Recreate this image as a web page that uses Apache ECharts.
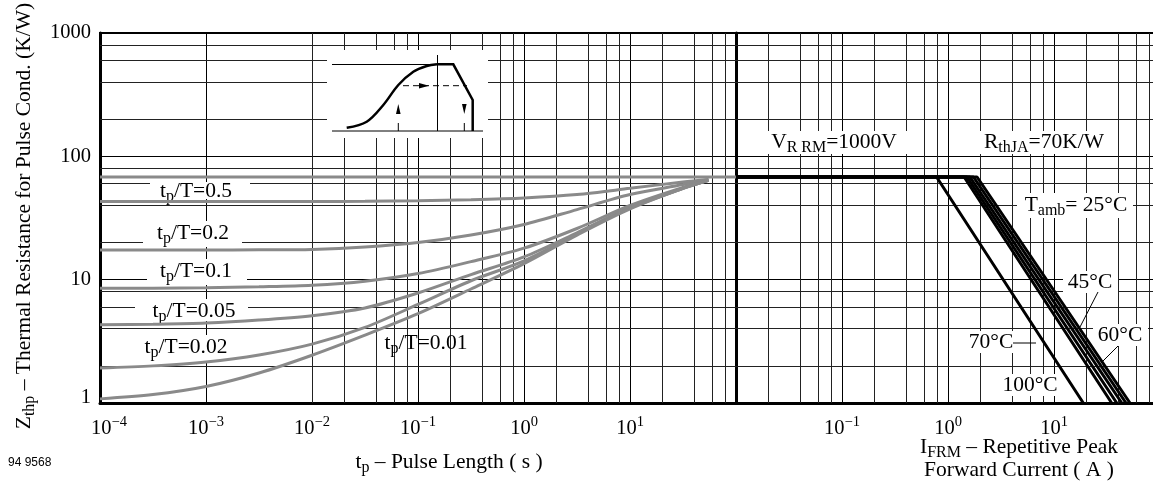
<!DOCTYPE html>
<html>
<head>
<meta charset="utf-8">
<script src="https://cdn.jsdelivr.net/npm/echarts/dist/echarts.min.js"></script>
<style>
  html, body { margin: 0; padding: 0; background: #fff; }
  #chart { width: 1153px; height: 481px; }
</style>
</head>
<body>
<div id="chart"></div>
<script>
// ---- left panel: Zthp vs pulse length, one curve per duty cycle tp/T ----
var pulseLength = [1e-4, 3.16e-4, 1e-3, 3.16e-3, 1e-2, 0.0316, 0.1, 0.316, 1, 3.16, 10, 31.6, 55];
var zth05  = [43, 43, 43, 43, 43, 43.2, 43.6, 44.5, 46, 49, 55, 62, 65];
var zth02  = [17.4, 17.4, 17.4, 17.45, 17.6, 18.4, 20, 23, 28, 37, 49, 59, 65];
var zth01  = [8.5, 8.52, 8.6, 8.75, 9.0, 9.7, 11.2, 14.0, 18, 26, 40, 56, 64];
var zth005 = [4.3, 4.35, 4.45, 4.7, 5.1, 5.9, 7.8, 11.0, 15.3, 24, 38.5, 55, 64];
var zth002 = [1.92, 2.0, 2.15, 2.45, 3.0, 4.1, 6.3, 9.8, 14.2, 23.5, 38, 55, 64];
var zth001 = [1.08, 1.17, 1.36, 1.75, 2.44, 3.55, 5.3, 8.4, 13.5, 23, 37.5, 55, 64];
var dcSpan = [1e-4, 100];
var rthLevel = 68;   // R_thJA plateau, K/W

// ---- right panel: I_FRM limit per ambient temperature ----
var ifrmStart = 0.01;
var ifrmKnee = [0.78, 1.42, 1.51, 1.61, 1.74, 1.88];
var ifrmEnd  = [18.9, 35.0, 39.1, 43.6, 47.8, 52.1];
var zBottom = 1;

// ---- axes / ticks ----
var yRange = [1, 1000];
var leftXRange = [1e-4, 100];
var rightXRange = [0.01, 100];
var leftTickExp = [-4, -3, -2, -1, 0, 1];
var rightTickExp = [-1, 0, 1];
var minorSteps = [2, 4, 6, 8];

var SERIF = 'Liberation Serif';
var GRAY = '#8a8a8a';

function decadeLines(lo, hi) {
  var out = [];
  for (var d = lo; d < hi; d *= 10) {
    minorSteps.forEach(function (m) { out.push(m * d); });
  }
  return out;
}

function expLabel(shown, padFirst) {
  return function (v) {
    var e = Math.round(Math.log10(v));
    if (shown.indexOf(e) < 0) return '';
    var s = e < 0 ? '\u2212' + (-e) : String(e);
    var pad = (padFirst && e === shown[0]) ? '{pad|\u00a0}' : '';
    return pad + '{b|10}{s|' + s + '}';
  };
}

var tickRich = {
  b: { fontFamily: SERIF, fontSize: 20.5, color: '#000' },
  s: { fontFamily: SERIF, fontSize: 14.5, color: '#000', padding: [0, 0, 13, 0] },
  pad: { width: 18, fontSize: 14 }
};

var textRich = {
  m: { fontFamily: SERIF, fontSize: 21.5, color: '#000' },
  sb: { fontFamily: SERIF, fontSize: 16, color: '#000', padding: [11, 0, 0, 0] }
};

function gridSeries(xi, xs, ys) {
  var d = [];
  xs.forEach(function (v) { d.push({ xAxis: v }); });
  ys.forEach(function (v) { d.push({ yAxis: v }); });
  return {
    type: 'line', xAxisIndex: xi, yAxisIndex: xi, data: [], z: 1, silent: true,
    markLine: {
      z: 1, silent: true, symbol: ['none', 'none'], label: { show: false },
      lineStyle: { color: '#222', width: 1, type: 'solid' },
      emphasis: { disabled: true },
      data: d
    }
  };
}

function curve(name, vals) {
  return {
    name: name, type: 'line', xAxisIndex: 0, yAxisIndex: 0, z: 10,
    smooth: 0.3, showSymbol: false, silent: true,
    lineStyle: { color: GRAY, width: 3 },
    data: pulseLength.map(function (t, i) { return [t, vals[i]]; })
  };
}

var series = [
  gridSeries(0, decadeLines(leftXRange[0], leftXRange[1]), decadeLines(yRange[0], yRange[1])),
  gridSeries(1, decadeLines(rightXRange[0], rightXRange[1]), decadeLines(yRange[0], yRange[1])),
  {
    name: 'DC', type: 'line', xAxisIndex: 0, yAxisIndex: 0, z: 10, showSymbol: false, silent: true,
    lineStyle: { color: GRAY, width: 3 },
    data: dcSpan.map(function (t) { return [t, rthLevel]; })
  },
  curve('0.5', zth05), curve('0.2', zth02), curve('0.1', zth01),
  curve('0.05', zth005), curve('0.02', zth002), curve('0.01', zth001)
];

ifrmKnee.forEach(function (k, i) {
  series.push({
    type: 'line', xAxisIndex: 1, yAxisIndex: 1, z: 10, showSymbol: false, silent: true,
    lineStyle: { color: '#000', width: 3 },
    data: [[ifrmStart, rthLevel], [k, rthLevel], [ifrmEnd[i], zBottom]]
  });
});

function label(x, y, text, extra) {
  return Object.assign({ type: 'text', x: x, y: y, z: 9, style: {
    text: text, rich: textRich, align: 'center', verticalAlign: 'middle',
    fontFamily: SERIF, fontSize: 21.5, fill: '#000'
  } }, extra || {});
}

// white patch that hides the grid behind a label
function patch(x0, y0, x1, y1) {
  return { type: 'rect', z: 8, shape: { x: x0, y: y0, width: x1 - x0, height: y1 - y0 },
    style: { fill: '#fff' } };
}

function seg(x1, y1, x2, y2, w, dash) {
  return { type: 'line', z: 9, shape: { x1: x1, y1: y1, x2: x2, y2: y2 },
    style: { stroke: '#000', lineWidth: w || 1, lineDash: dash || null } };
}

var graphics = [
  // duty-cycle labels
  patch(150, 182, 250, 199), label(196, 191, '{m|t}{sb|p}{m|/T=0.5}'),
  patch(143, 221, 242, 247), label(193, 233, '{m|t}{sb|p}{m|/T=0.2}'),
  patch(147, 259, 247, 285), label(196, 271, '{m|t}{sb|p}{m|/T=0.1}'),
  patch(135, 299, 248, 321), label(194, 311, '{m|t}{sb|p}{m|/T=0.05}'),
  patch(133, 335, 242, 362), label(186, 347, '{m|t}{sb|p}{m|/T=0.02}'),
  label(426, 343, '{m|t}{sb|p}{m|/T=0.01}'),
  // right panel labels
  patch(765, 131, 907, 154), label(834, 142, '{m|V}{sb|R RM}{m|=1000V}'),
  patch(980, 131, 1118, 154), label(1044, 142, '{m|R}{sb|thJA}{m|=70K/W}'),
  patch(1017, 193, 1133, 218), label(1076, 205, '{m|T}{sb|amb}{m|= 25\u00b0C}'),
  patch(1063, 271, 1118, 293), label(1090, 282, '{m|45\u00b0C}'),
  patch(1093, 324, 1148, 346), label(1120, 335, '{m|60\u00b0C}'),
  patch(968, 331, 1014, 353), label(991, 342, '{m|70\u00b0C}'),
  patch(1001, 374, 1060, 396), label(1030, 385, '{m|100\u00b0C}'),
  seg(1098, 292, 1080, 327),
  seg(1118, 346, 1101, 363),
  seg(1013, 343, 1036, 343),
  // axis titles
  label(24, 216, '{m|Z}{sb|thp}{m| \u2013 Thermal Resistance for Pulse Cond. (K/W)}',
        { rotation: Math.PI / 2 }),
  label(449, 462, '{m|t}{sb|p}{m| \u2013 Pulse Length ( s )}'),
  label(1019, 447, '{m|I}{sb|FRM}{m| \u2013 Repetitive Peak}'),
  label(1019, 470, '{m|Forward Current ( A )}'),
  { type: 'text', x: 8, y: 463, z: 9,
    style: { text: '94 9568', fontFamily: 'Liberation Sans', fontSize: 12, fill: '#000',
             align: 'left', verticalAlign: 'middle' } },
  // inset sketch
  patch(327, 50, 488, 138),
  seg(332, 64.5, 453, 64.5),
  seg(332, 131, 483, 131),
  seg(437.5, 55, 437.5, 131),
  { type: 'polyline', z: 9, shape: { smooth: 0.35, points: [[346.7, 127.7], [366.7, 121.7], [383.3, 105],
      [398.3, 85], [413.3, 71.7], [426.7, 66], [437, 64.3]] },
    style: { stroke: '#000', lineWidth: 2.5, fill: 'none' } },
  { type: 'polyline', z: 9, shape: { points: [[437, 64.3], [453.3, 64.3], [472.7, 100], [472.7, 131]] },
    style: { stroke: '#000', lineWidth: 2.5, fill: 'none' } },
  seg(403, 85.7, 467, 85.7, 1, [6, 4]),
  { type: 'polygon', z: 9, shape: { points: [[419, 83], [419, 88.5], [429, 85.7]] }, style: { fill: '#000' } },
  { type: 'polygon', z: 9, shape: { points: [[396, 114], [400.6, 114], [398.3, 104]] }, style: { fill: '#000' } },
  { type: 'polygon', z: 9, shape: { points: [[462, 104], [466.6, 104], [464.3, 114]] }, style: { fill: '#000' } },
  seg(398.3, 123, 398.3, 131),
  seg(464.3, 123, 464.3, 131)
];

function xAxisCfg(gi, range, shown, padFirst) {
  return {
    type: 'log', logBase: 10, gridIndex: gi, min: range[0], max: range[1], splitNumber: 6,
    axisLine: { show: true, lineStyle: { color: '#000', width: 3 } },
    axisTick: { show: false },
    axisLabel: { show: true, margin: 12, formatter: expLabel(shown, padFirst), rich: tickRich,
                 showMinLabel: true, showMaxLabel: true, hideOverlap: false },
    splitLine: { show: true, lineStyle: { color: '#000', width: 1 } }
  };
}

function yAxisCfg(gi, showLabels) {
  return {
    type: 'log', logBase: 10, gridIndex: gi, min: yRange[0], max: yRange[1], splitNumber: 3,
    axisLine: { show: true, lineStyle: { color: '#000', width: 3 } },
    axisTick: { show: false },
    axisLabel: {
      show: showLabels, margin: 9,
      formatter: function (v) { return v === 1 ? '{lo|1}' : '{n|' + v + '}'; },
      rich: {
        n: { fontFamily: SERIF, fontSize: 20.5, color: '#000' },
        lo: { fontFamily: SERIF, fontSize: 20.5, color: '#000', padding: [0, 0, 10, 0] }
      }
    },
    splitLine: { show: true, lineStyle: { color: '#000', width: 1 } }
  };
}

var chart = echarts.init(document.getElementById('chart'), null, { renderer: 'canvas' });
chart.setOption({
  animation: false,
  backgroundColor: '#fff',
  grid: [
    { left: 100, top: 33, width: 636, height: 370, show: true, borderColor: '#000', borderWidth: 2,
      containLabel: false, outerBoundsMode: 'none' },
    { left: 736, top: 33, width: 424, height: 370, show: true, borderColor: '#000', borderWidth: 2,
      containLabel: false, outerBoundsMode: 'none' }
  ],
  xAxis: [
    xAxisCfg(0, leftXRange, leftTickExp, true),
    xAxisCfg(1, rightXRange, rightTickExp, false)
  ],
  yAxis: [yAxisCfg(0, true), yAxisCfg(1, false)],
  series: series,
  graphic: graphics
});
</script>
</body>
</html>
